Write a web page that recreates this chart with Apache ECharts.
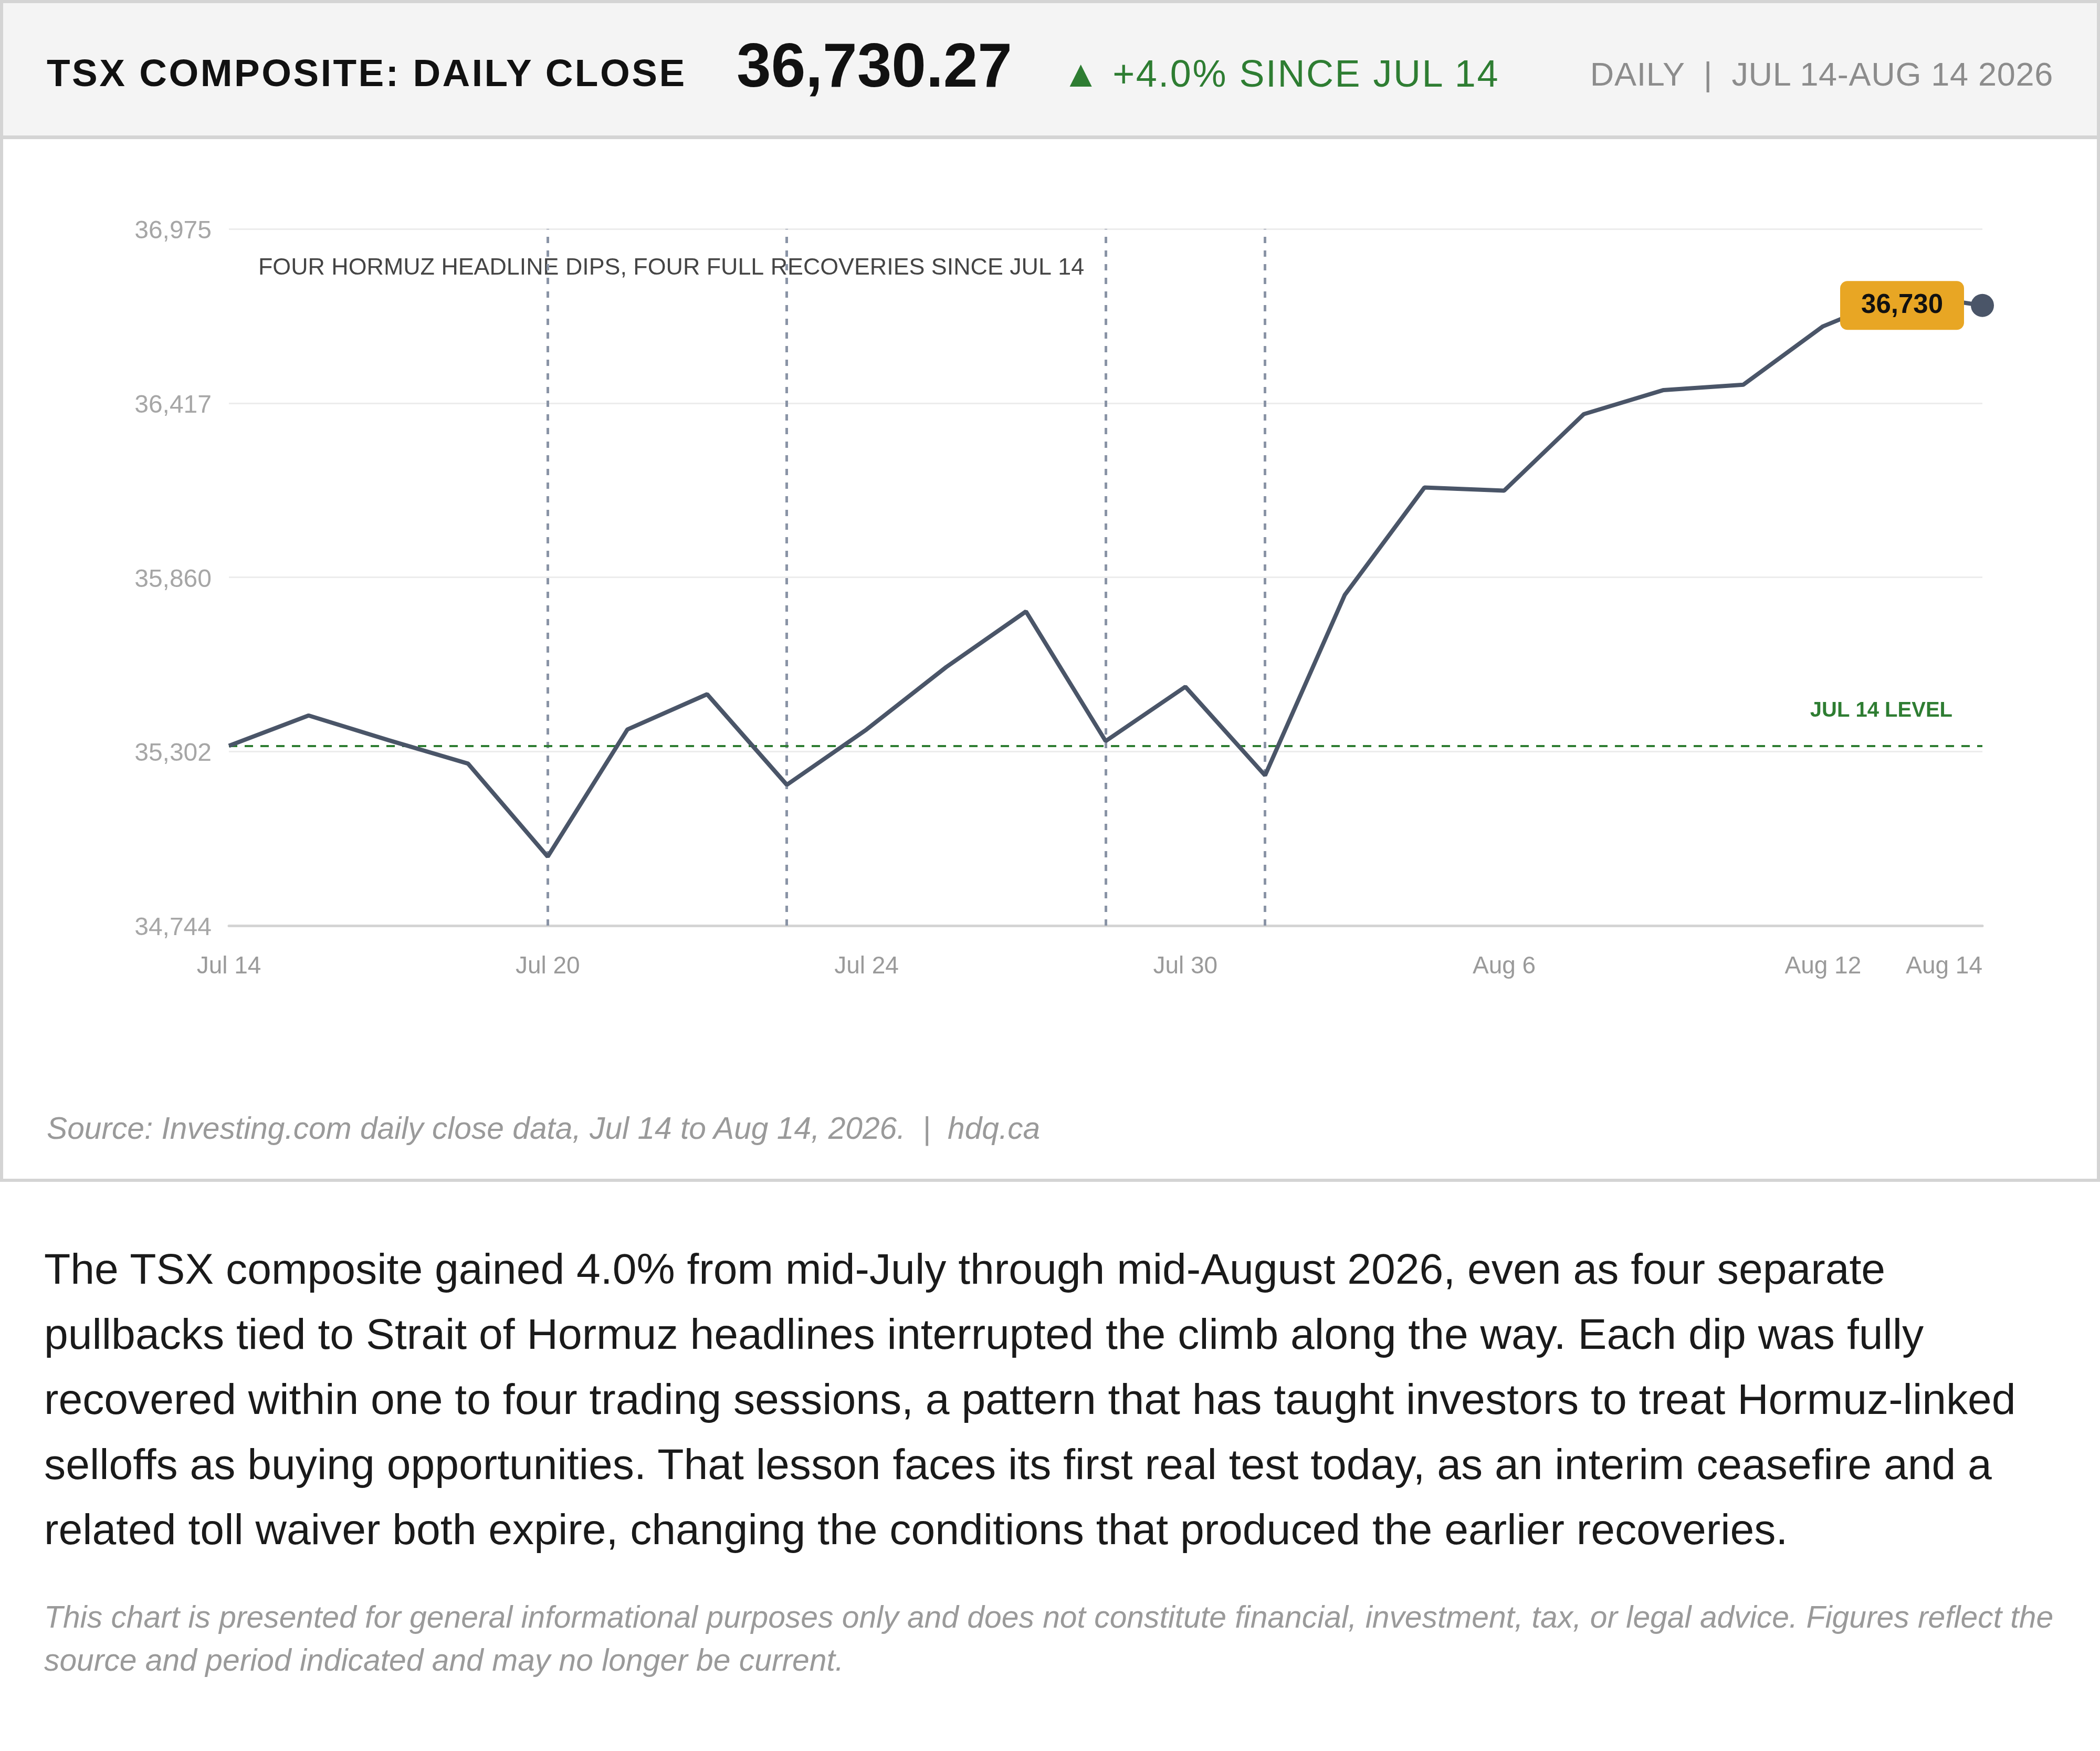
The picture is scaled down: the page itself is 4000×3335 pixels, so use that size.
<!DOCTYPE html>
<html>
<head>
<meta charset="utf-8">
<script src="https://cdn.jsdelivr.net/npm/echarts@6/dist/echarts.min.js"></script>
<style>
  html, body { margin: 0; padding: 0; background: #fff; }
  body { width: 4000px; height: 3335px; position: relative; font-family: "Liberation Sans", Arial, sans-serif; }
  .card { position: absolute; left: 0; top: 0; width: 4000px; height: 2251px; border: 6px solid #d4d4d4; box-sizing: border-box; }
  .head { position: absolute; left: 0; top: 0; width: 4000px; height: 265px; background: #f4f4f4; border: 6px solid #d4d4d4; border-bottom-width: 7px; box-sizing: border-box; }
  .t { position: absolute; line-height: 1; white-space: pre; }
  #chart { position: absolute; left: 0; top: 265px; width: 4000px; height: 1700px; }
  .para { position: absolute; left: 84px; top: 2354px; font-size: 82.3px; line-height: 124px; color: #1a1a1a; white-space: nowrap; }
  .disc { position: absolute; left: 84px; top: 3039px; font-size: 58.8px; line-height: 82px; color: #9a9a9a; font-style: italic; white-space: nowrap; }
</style>
</head>
<body>
<div class="card"></div>
<div class="head">
  <div class="t" style="left:83px;top:96px;font-size:73px;font-weight:bold;letter-spacing:3.5px;color:#111;">TSX COMPOSITE: DAILY CLOSE</div>
  <div class="t" style="left:1397px;top:59px;font-size:118px;font-weight:bold;color:#111;">36,730.27</div>
  <div class="t" style="left:2017px;top:98px;font-size:72px;letter-spacing:2.5px;color:#2e7d32;">▲ +4.0% SINCE JUL 14</div>
  <div class="t" style="right:83px;top:104px;font-size:63px;letter-spacing:0.7px;color:#8c8c8c;">DAILY  |  JUL 14-AUG 14 2026</div>
</div>
<div id="chart"></div>
<div class="t" style="left:89px;top:2120px;font-size:58.7px;font-style:italic;color:#9a9a9a;">Source: Investing.com daily close data, Jul 14 to Aug 14, 2026.  |  hdq.ca</div>
<div class="para">The TSX composite gained 4.0% from mid-July through mid-August 2026, even as four separate<br>pullbacks tied to Strait of Hormuz headlines interrupted the climb along the way. Each dip was fully<br>recovered within one to four trading sessions, a pattern that has taught investors to treat Hormuz-linked<br>selloffs as buying opportunities. That lesson faces its first real test today, as an interim ceasefire and a<br>related toll waiver both expire, changing the conditions that produced the earlier recoveries.</div>
<div class="disc">This chart is presented for general informational purposes only and does not constitute financial, investment, tax, or legal advice. Figures reflect the<br>source and period indicated and may no longer be current.</div>
<script>
// trading days Jul 14 - Aug 14 2026 (Aug 3 civic holiday)
var dates = ['Jul 14', 'Jul 15', 'Jul 16', 'Jul 17', 'Jul 20', 'Jul 21', 'Jul 22', 'Jul 23', 'Jul 24',
  'Jul 27', 'Jul 28', 'Jul 29', 'Jul 30', 'Jul 31', 'Aug 4', 'Aug 5', 'Aug 6', 'Aug 7',
  'Aug 10', 'Aug 11', 'Aug 12', 'Aug 13', 'Aug 14'];
var closes = [35320, 35417, 35338, 35263, 34965, 35372, 35485, 35195, 35372, 35572, 35750, 35335,
  35509, 35225, 35803, 36147, 36137, 36382, 36459, 36476, 36663, 36768, 36730];
var shownLabels = ['Jul 14', 'Jul 20', 'Jul 24', 'Jul 30', 'Aug 6', 'Aug 12', 'Aug 14'];
var dipDays = ['Jul 20', 'Jul 23', 'Jul 29', 'Jul 31'];
var yMin = 34744;
var yMax = 36975;
var yStep = 557.75;
var baseLevel = closes[0];
var note = 'FOUR HORMUZ HEADLINE DIPS, FOUR FULL RECOVERIES SINCE JUL 14';

var font = '"Liberation Sans", Arial, sans-serif';
var last = closes.length - 1;

var chart = echarts.init(document.getElementById('chart'));

var lineData = closes.map(function (v, i) {
  if (i !== last) return { value: v, symbol: 'none' };
  return {
    value: v,
    symbol: 'circle',
    symbolSize: 44,
    label: {
      show: true,
      position: 'left',
      distance: 13,
      formatter: function (p) { return Math.round(p.value).toLocaleString('en-US'); },
      backgroundColor: '#e8a624',
      borderRadius: 14,
      padding: [24, 40, 18, 40],
      color: '#111',
      fontSize: 51,
      fontWeight: 'bold',
      fontFamily: font
    }
  };
});

var option = {
  animation: false,
  grid: { left: 436, right: 224, top: 171, bottom: 202 },
  xAxis: {
    type: 'category',
    data: dates,
    boundaryGap: false,
    axisLine: { lineStyle: { color: '#d4d4d4', width: 5 } },
    axisTick: { show: false },
    splitLine: { show: false },
    axisLabel: {
      interval: function (i, name) { return shownLabels.indexOf(name) >= 0; },
      color: '#9a9a9a',
      fontSize: 46,
      fontFamily: font,
      margin: 55,
      alignMaxLabel: 'right'
    }
  },
  yAxis: {
    type: 'value',
    min: yMin,
    max: yMax,
    interval: yStep,
    axisLine: { show: false },
    axisTick: { show: false },
    splitLine: { lineStyle: { color: '#ececec', width: 3 } },
    axisLabel: {
      color: '#a6a6a6',
      fontSize: 48,
      fontFamily: font,
      margin: 33,
      verticalAlign: 'top',
      lineHeight: 10,
      formatter: function (v) { return Math.round(v).toLocaleString('en-US'); }
    }
  },
  graphic: [{
    type: 'text',
    left: 492,
    top: 223,
    style: { text: note, fill: '#444', fontSize: 44.8, fontFamily: font }
  }],
  series: [{
    type: 'line',
    data: lineData,
    showSymbol: true,
    symbol: 'circle',
    lineStyle: { color: '#4a5568', width: 8 },
    itemStyle: { color: '#4a5568' },
    z: 5,
    markLine: {
      silent: true,
      symbol: ['none', 'none'],
      data: dipDays.map(function (d) {
        return {
          xAxis: d,
          lineStyle: { color: '#8a94a6', width: 5, type: [12, 14] },
          label: { show: false }
        };
      }).concat([{
        yAxis: baseLevel,
        lineStyle: { color: '#2e7d32', width: 4, type: [16, 14] },
        label: {
          show: true,
          position: 'insideEndTop',
          distance: [57, 46],
          formatter: 'JUL 14 LEVEL',
          color: '#2e7d32',
          fontSize: 40,
          fontWeight: 'bold',
          fontFamily: font
        }
      }])
    }
  }]
};

chart.setOption(option);
</script>
</body>
</html>
